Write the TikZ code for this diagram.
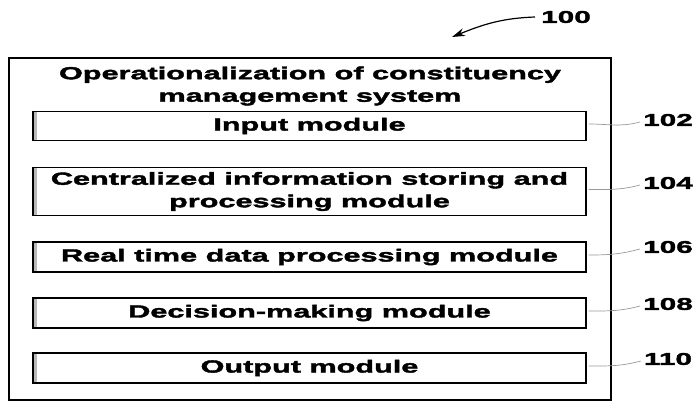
\documentclass[tikz,border=0pt]{standalone}
\usepackage{fontspec}
\setmainfont{Liberation Sans}[FakeStretch=1.75, BoldFeatures={FakeBold=2.2}]
\usetikzlibrary{arrows.meta}
\begin{document}
\begin{tikzpicture}[x=1pt,y=-1pt,
  every node/.style={font=\fontsize{17.5}{22.5}\selectfont\bfseries, inner sep=0pt},
  modbox/.style={draw, line width=1.3pt, minimum width=553pt, align=center,
    path picture={\fill[gray!55] (path picture bounding box.north west) rectangle ([xshift=4pt]path picture bounding box.south west);}},
  outerbox/.style={draw, line width=1.6pt},
  reflabel/.style={font=\fontsize{17}{20}\selectfont\bfseries},
  leader/.style={draw=gray!80, line width=0.7pt},
]
\useasboundingbox (0,0) rectangle (695,402);
% outer system box
\node[outerbox, minimum width=602pt, minimum height=342pt] (sys) at (310,229) {};
\node[align=center] (title) at (310,86) {Operationalization of constituency\\management system};
% modules
\node[modbox, minimum height=29pt] (m102) at (309.5,126) {Input module};
\node[modbox, minimum height=48pt] (m104) at (309.5,191.5) {Centralized information storing and\\processing module};
\node[modbox, minimum height=30pt] (m106) at (309.5,257) {Real time data processing module};
\node[modbox, minimum height=30pt] (m108) at (309.5,313) {Decision-making module};
\node[modbox, minimum height=30pt] (m110) at (309.5,368) {Output module};
% reference numerals
\node[reflabel] (l100) at (566,17) {100};
\node[reflabel] (l102) at (668,120) {102};
\node[reflabel] (l104) at (668,183) {104};
\node[reflabel] (l106) at (668,247) {106};
\node[reflabel] (l108) at (668,304) {108};
\node[reflabel] (l110) at (668,359) {110};
% leaders
\foreach \n in {102,104,106,108,110}{
  \draw[leader] ([xshift=2pt,yshift=2pt]m\n.east) to[out=0,in=195] ([xshift=-3pt,yshift=-2pt]l\n.west);
}
% arrow for 100
\coordinate (a100) at (452,37);
\draw[line width=1.2pt, -{Stealth[length=13pt,width=8pt]}] ([xshift=-6pt]l100.west) to[out=182,in=22] (a100);
\end{tikzpicture}
\end{document}
